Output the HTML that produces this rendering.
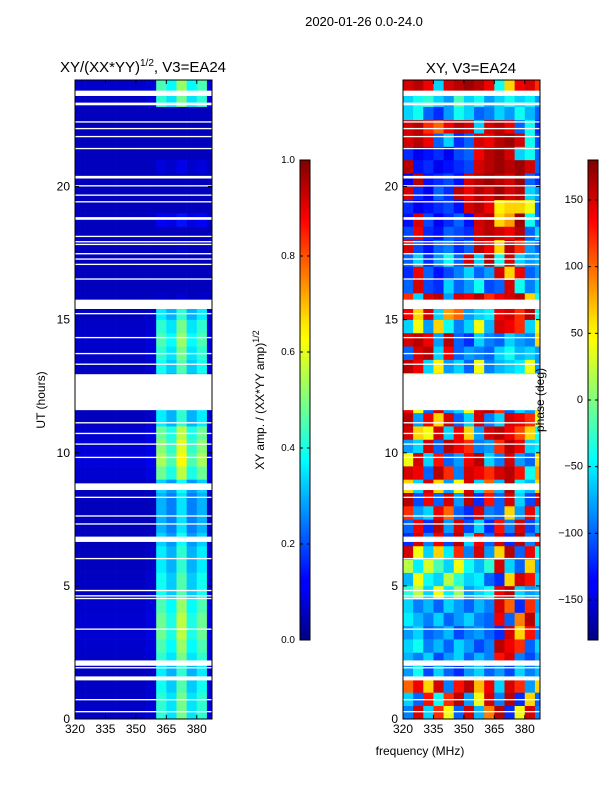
<!DOCTYPE html>
<html><head><meta charset="utf-8"><style>
body{margin:0;background:#fff;}
svg text{font-family:"Liberation Sans",sans-serif;fill:#000;}
</style></head><body>
<svg id="fig" width="600" height="800" xmlns="http://www.w3.org/2000/svg">
<defs>
<linearGradient id="jet" x1="0" y1="1" x2="0" y2="0">
<stop offset="0" stop-color="#00007f"/><stop offset="0.11" stop-color="#0000ff"/><stop offset="0.125" stop-color="#0000ff"/>
<stop offset="0.34" stop-color="#00dbff"/><stop offset="0.375" stop-color="#00ffff"/><stop offset="0.5" stop-color="#7fff7f"/>
<stop offset="0.625" stop-color="#ffff00"/><stop offset="0.66" stop-color="#ffe600"/><stop offset="0.875" stop-color="#ff0000"/><stop offset="1" stop-color="#7f0000"/>
</linearGradient>
</defs>
<text x="364" y="26" font-size="13" text-anchor="middle">2020-01-26 0.0-24.0</text>
<g id="left"></g>
<g id="right"></g>
<g id="axes"></g>
</svg>
<script>
const freqLo=[320,325,330,335,340,345,350,355,360,365,370,375,380,385];
const gapsUT=[[23.4,23.6],[23.05,23.15],[22.4,22.45],[22.15,22.2],[21.85,21.9],[21.4,21.45],[20.3,20.4],[20.0,20.05],[19.65,19.7],[19.4,19.45],[18.75,18.85],[18.1,18.15],[17.9,17.95],[17.8,17.85],[17.45,17.5],[17.25,17.3],[17.05,17.1],[16.5,16.55],[15.4,15.75],[15.2,15.25],[14.3,14.35],[13.7,13.75],[13.3,13.35],[11.6,12.95],[11.1,11.15],[10.7,10.75],[10.3,10.35],[9.8,9.85],[8.6,8.85],[8.3,8.35],[7.6,7.65],[7.3,7.35],[6.65,6.85],[6.0,6.05],[4.8,4.85],[4.6,4.65],[4.5,4.55],[3.35,3.4],[2.0,2.2],[1.9,1.95],[1.45,1.6],[0.7,0.75],[0.25,0.3]];
const bgAmp=0.06;
const colWeight=[1,1,1,1,1,1,1,1.2,6,5,7,5,6,1.3];
const bandAmp=[0.07,0.07,0.065,0.06,0.07,0.075,0.08,0.08,0.075,0.065,0.065,0.06,0.06,0.055,0.05,0.05,0.05,0.055,0.08,0.09,0.085,0.08,0.06,0.06,0.06,0.06,0.065,0.07,0.075,0.07,0.06,0.012,0.008,0.008,0.008,0.01,0.008,0.02,0.008,0.008,0.008,0.015,0.008,0.008,0.008,0.008,0.07,0.075];
const phase=[
[-90,150,-60,120,40,-100,150,-70,90,160,-120,40,150,-90],
[-60,-100,130,-40,120,160,-80,40,150,-90,160,-120,60,-100],
[100,140,60,150,-90,130,160,70,140,-60,150,120,-80,60],
[-80,-40,-110,-60,-100,-120,-80,-60,-100,-80,-110,-60,-90,-70],
[-70,-90,-60,-110,-80,-60,-100,-70,-90,130,150,-90,-110,-80],
[-60,-40,-90,-70,-100,-60,-80,-110,-90,160,140,120,-100,-60],
[-80,-60,-100,-90,-70,-110,-90,-80,-100,-120,150,60,130,-90],
[-50,-70,-90,-60,-100,-80,-60,-90,-100,140,-100,90,160,-60],
[-60,-90,-70,-100,-60,-80,-100,-70,-90,150,100,-120,120,-80],
[-30,20,-60,40,-50,10,-80,-60,-40,140,160,-60,-80,-70],
[-70,40,-40,-60,20,-30,-60,-50,-100,-120,60,150,130,-60],
[20,-50,30,-20,-60,40,-40,-70,-30,150,-60,-100,60,-80],
[150,40,-60,60,-50,120,-90,150,-80,60,160,-100,140,-40],
[-120,150,-90,140,-110,160,-60,140,-100,150,-120,160,-90,150],
[-100,140,-120,160,-80,150,-110,-60,-120,130,-90,150,-110,-70],
[120,-80,-60,140,100,-100,-120,150,-90,-100,60,-80,140,-60],
[160,-110,140,-100,150,-80,160,-120,130,-100,150,-60,-110,150],
[60,-60,150,60,-80,40,150,-60,100,-70,160,-50,-70,60],
[150,140,-100,160,120,-90,150,140,120,150,160,130,-40,80],
[40,150,-60,130,-100,-80,140,160,-60,-90,150,-80,-100,60],
[-80,-60,150,-100,160,140,120,-90,-80,120,160,140,-60,-50],
[150,60,40,150,-60,140,60,-80,150,160,140,110,60,-40],
[160,-80,140,60,150,-100,-60,150,-90,-60,150,140,120,40],
[140,40,-100,150,-80,-60,40,150,160,120,-100,-60,-80,60],
[0,0,0,0,0,0,0,0,0,0,0,0,0,0],
[0,0,0,0,0,0,0,0,0,0,0,0,0,0],
[160,140,-60,50,-80,-60,-100,40,-90,-70,-60,-50,40,-80],
[-100,150,160,-60,140,-100,-80,-90,-100,-60,-40,-70,-60,-80],
[150,160,140,-80,160,-100,-120,-60,-90,-100,-60,-80,-90,60],
[-60,40,-80,60,-40,-90,-60,40,-70,150,140,120,-60,40],
[140,60,150,-60,80,100,-80,-60,-50,140,150,120,160,-40],
[120,-60,150,160,-80,150,140,160,120,140,150,160,60,-40],
[-100,150,-110,-120,-60,-100,-80,-40,-110,-100,150,-40,-90,-60],
[-120,140,-100,-130,-110,-90,-60,-100,-80,150,60,140,-100,-80],
[-100,-60,-120,-80,-40,-100,150,-60,160,-40,150,-60,-80,-70],
[150,-110,-130,-100,-90,-120,-100,160,140,60,160,120,-80,-100],
[-110,140,-120,-130,-100,-110,-120,150,160,150,140,160,-100,-60],
[-130,150,-110,-140,-120,-100,-130,150,160,60,80,170,-40,-100],
[-120,-140,-130,-120,-110,-130,150,160,140,50,60,60,40,-100],
[150,-120,-140,-100,-120,160,140,160,150,170,150,160,-60,-80],
[-140,160,-130,-120,-110,-130,150,160,170,160,150,170,-100,-120],
[160,-130,-120,-140,-130,-120,-110,150,160,170,160,170,150,-100],
[-120,-140,-130,-120,-140,-110,-100,140,160,170,150,-60,-40,-100],
[150,160,140,-100,-60,-120,-100,150,140,160,170,150,-40,-110],
[150,160,120,100,140,160,150,-60,150,160,140,-100,-40,-120],
[-60,-40,-100,-120,-80,-40,-60,-100,-90,-60,-80,-40,-70,-100],
[-60,-40,-30,-60,-80,-20,-60,-40,-80,-60,-40,-60,-50,-80],
[150,160,140,-60,150,160,170,160,140,-40,60,140,150,120]];
const yTicks=[0,5,10,15,20];
const xTicks=[320,335,350,365,380];
const cbAmpTicks=[0.0,0.2,0.4,0.6,0.8,1.0];
const cbPhaseTicks=[-150,-100,-50,0,50,100,150];

const NS='http://www.w3.org/2000/svg';
const PT=80,PB=719,FMIN=320,FMAX=387.5,TMAX=24;
function ys(t){return PB-(PB-PT)*t/TMAX;}
function xsf(x0,x1){return f=>x0+(x1-x0)*(Math.min(f,FMAX)-FMIN)/(FMAX-FMIN);}
function jet(v){v=Math.max(0,Math.min(1,v));const c=a=>Math.round(255*Math.max(0,Math.min(1,1.5-Math.abs(4*v-a))));return `rgb(${c(3)},${c(2)},${c(1)})`;}
function el(tag,attrs,parent){const e=document.createElementNS(NS,tag);for(const k in attrs)e.setAttribute(k,attrs[k]);parent.appendChild(e);return e;}
function drawPanel(g,x0,x1,valFn){
  const xs=xsf(x0,x1);
  for(let r=0;r<phase.length;r++){
    for(let c=0;c<freqLo.length;c++){
      const xa=xs(freqLo[c]),xb=xs(freqLo[c]+5);
      const e=el('rect',{x:xa,y:ys(r*0.5+0.5),width:xb-xa+0.3,height:ys(r*0.5)-ys(r*0.5+0.5)+0.3,fill:valFn(r,c)},g);
      
      
    }
  }
  for(const gp of gapsUT){
    const e=el('rect',{x:x0,y:ys(gp[1]),width:x1-x0,height:Math.max(1,ys(gp[0])-ys(gp[1])),fill:'#fff'},g);
    
    
  }
  const fr=el('rect',{x:x0,y:PT,width:x1-x0,height:PB-PT,fill:'none',stroke:'#000','stroke-width':1},g);
  
  
  for(const t of yTicks){
    const y=ys(t);
    el('line',{x1:x0,x2:x0+4,y1:y,y2:y,stroke:'#000'},g);
    el('line',{x1:x1,x2:x1-4,y1:y,y2:y,stroke:'#000'},g);
    const tx=el('text',{x:x0-5,y:y+4,'font-size':12,'text-anchor':'end'},g);tx.textContent=t;
    
    
  }
  for(const f of xTicks){
    const x=xs(f);
    el('line',{x1:x,x2:x,y1:PB,y2:PB-4,stroke:'#000'},g);
    el('line',{x1:x,x2:x,y1:PT,y2:PT+4,stroke:'#000'},g);
    const tx=el('text',{x:x,y:PB+14,'font-size':12,'text-anchor':'middle'},g);tx.textContent=f;
    
    
  }
}
drawPanel(document.getElementById('left'),75,212,(r,c)=>jet(bandAmp[r]*colWeight[c]>bgAmp?bandAmp[r]*colWeight[c]:bgAmp));
drawPanel(document.getElementById('right'),403,540,(r,c)=>jet((phase[r][c]+180)/360));

const ax=document.getElementById('axes');
function colorbar(x,ticks,vmin,vmax,fmt,name){
  const r=el('rect',{x:x,y:160,width:10,height:480,fill:'url(#jet)',stroke:'#000'},ax);
  
  
  for(const t of ticks){
    const y=640-480*(t-vmin)/(vmax-vmin);
    el('line',{x1:x,x2:x+3,y1:y,y2:y,stroke:'#000'},ax);
    el('line',{x1:x+10,x2:x+7,y1:y,y2:y,stroke:'#000'},ax);
    const tx=el('text',{x:x-5,y:y+3,'font-size':fmt?10:11,'text-anchor':'end'},ax);
    tx.textContent=fmt?t.toFixed(1):(t<0?'\u2212'+(-t):t);
    
    
  }
}
colorbar(300,cbAmpTicks,0,1,true,'amplitude-colorbar');
colorbar(588,cbPhaseTicks,-180,180,false,'phase-colorbar');
</script>
<div style="position:absolute;left:0;top:0;width:600px;height:800px;pointer-events:none">
<svg width="600" height="800" xmlns="http://www.w3.org/2000/svg" style="font-family:'Liberation Sans',sans-serif">
<text x="143" y="72" font-size="15" text-anchor="middle">XY/(XX*YY)<tspan font-size="10" dy="-6">1/2</tspan><tspan dy="6">, V3=EA24</tspan></text>
<text x="471" y="73" font-size="15" text-anchor="middle">XY, V3=EA24</text>
<text transform="translate(45,400) rotate(-90)" font-size="12" text-anchor="middle">UT (hours)</text>
<text x="420" y="755" font-size="12" text-anchor="middle">frequency (MHz)</text>
<text transform="translate(264,400) rotate(-90)" font-size="12" text-anchor="middle">XY amp. / (XX*YY amp)<tspan font-size="9" dy="-5">1/2</tspan></text>
<text transform="translate(544,400) rotate(-90)" font-size="12" text-anchor="middle">phase (deg)</text>
</svg></div>
</body></html>
